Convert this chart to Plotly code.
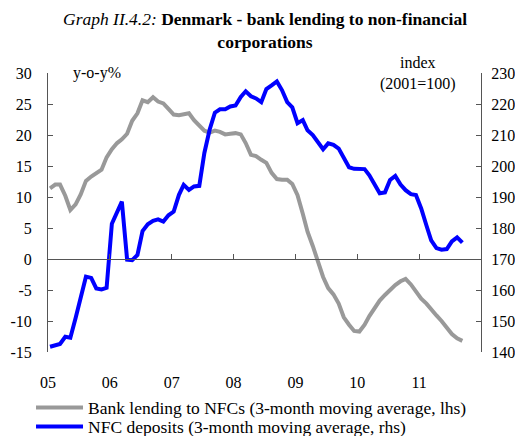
import pandas as pd
import plotly.graph_objects as go

# monthly data, Jan 2005 - Sep 2011
start_month = "2005-01-01"

lending_yoy = [
    11.4, 12.0, 12.0, 10.2, 7.9, 8.8, 10.4, 12.6, 13.3, 13.9, 14.4, 16.4,
    17.7, 18.7, 19.3, 20.2, 22.3, 23.5, 25.6, 25.3, 26.1, 25.4, 25.1, 24.2,
    23.3, 23.2, 23.3, 23.5, 22.4, 21.5, 20.7, 20.4, 20.7, 20.5, 20.1, 20.2,
    20.3, 20.1, 18.7, 16.8, 16.6, 16.0, 15.5, 13.9, 12.9, 12.8, 12.8, 12.1,
    10.3, 7.3, 4.4, 2.1, -0.4, -2.9, -4.7, -5.7, -7.2, -9.4, -10.6, -11.6,
    -11.7, -10.6, -9.2, -7.8, -6.7, -5.8, -5.0, -4.2, -3.6, -3.2, -4.1, -5.3,
    -6.4, -7.2, -8.2, -9.1, -10.0, -11.1, -12.1, -12.8, -13.2,
]

deposits_index = [
    141.7, 142.1, 142.6, 144.9, 144.6, 151.0, 158.1, 164.3, 163.9, 160.5, 160.2, 160.7,
    181.4, 185.2, 188.5, 169.8, 169.6, 171.3, 179.0, 181.2, 182.3, 182.8, 182.1, 184.1,
    185.3, 190.7, 193.9, 192.3, 193.4, 193.6, 204.2, 211.7, 217.2, 218.3, 218.3, 219.2,
    219.5, 222.3, 224.1, 222.5, 221.8, 220.6, 224.8, 226.0, 227.3, 224.5, 220.6, 218.9,
    213.8, 214.8, 211.5, 210.0, 207.5, 205.4, 207.3, 206.8, 205.6, 202.3, 199.6, 199.1,
    199.0, 199.0, 197.0, 193.8, 191.2, 191.5, 195.5, 196.8, 194.0, 192.2, 190.9, 190.6,
    186.3, 180.8, 176.0, 173.5, 173.0, 173.2, 175.7, 177.0, 175.3,
]

year_ticks = ["2005-01-01", "2006-01-01", "2007-01-01", "2008-01-01",
              "2009-01-01", "2010-01-01", "2011-01-01"]
year_labels = ["05", "06", "07", "08", "09", "10", "11"]

left_ticks = [30, 25, 20, 15, 10, 5, 0, -5, -10, -15]
right_ticks = [230, 220, 210, 200, 190, 180, 170, 160, 150, 140]

dates = pd.date_range(start_month, periods=len(lending_yoy), freq="MS") + pd.Timedelta(days=12)

FONT = "Liberation Serif, Times New Roman, serif"
AXIS_COLOR = "#555555"
x_range = ["2005-01-01", "2012-01-01"]

fig = go.Figure()

fig.add_trace(go.Scatter(
    x=dates, y=lending_yoy,
    mode="lines",
    name="Bank lending to NFCs (3-month moving average, lhs)",
    line=dict(color="#999999", width=4),
    xaxis="x", yaxis="y",
    legend="legend",
))

fig.add_trace(go.Scatter(
    x=dates, y=deposits_index,
    mode="lines",
    name="NFC deposits (3-month moving average, rhs)",
    line=dict(color="#0000FF", width=4),
    xaxis="x2", yaxis="y2",
    legend="legend2",
))

# one legend per row so the rows sit as tight as in the original
legend_style = dict(
    orientation="v",
    xref="container", yref="container",
    x=0.044, xanchor="left", yanchor="middle",
    bgcolor="rgba(0,0,0,0)",
    font=dict(family=FONT, size=17.5),
    itemwidth=47,
)

# the page body adds an 8px offset, margins are set with that in mind
fig.update_layout(
    width=523, height=436,
    margin=dict(l=40, r=50, t=65, b=92, autoexpand=False),
    paper_bgcolor="white",
    plot_bgcolor="white",
    font=dict(family=FONT, size=16, color="black"),
    # bottom axis: labels only
    xaxis=dict(
        range=x_range, type="date",
        tickvals=year_ticks, ticktext=year_labels,
        showline=False, showgrid=False, zeroline=False,
        ticks="outside", ticklen=16, tickcolor="rgba(0,0,0,0)",
        tickfont=dict(size=16),
    ),
    # axis line drawn across the plot at zero
    xaxis2=dict(
        range=x_range, type="date", matches="x",
        overlaying="x", anchor="free", position=1/3,
        tickvals=year_ticks, showticklabels=False,
        showline=True, linecolor=AXIS_COLOR, linewidth=1,
        ticks="inside", ticklen=5, tickcolor=AXIS_COLOR,
        showgrid=False, zeroline=False,
    ),
    yaxis=dict(
        range=[-15, 30],
        tickvals=left_ticks, ticktext=[str(v) for v in left_ticks],
        showline=True, linecolor=AXIS_COLOR, linewidth=1,
        ticks="inside", ticklen=5, tickcolor=AXIS_COLOR,
        ticklabelstandoff=12,
        showgrid=False, zeroline=False,
        tickfont=dict(size=16),
    ),
    yaxis2=dict(
        range=[140, 230],
        tickvals=right_ticks, ticktext=[str(v) for v in right_ticks],
        overlaying="y", side="right", anchor="x",
        showline=True, linecolor=AXIS_COLOR, linewidth=1,
        ticks="inside", ticklen=5, tickcolor=AXIS_COLOR,
        ticklabelstandoff=6,
        showgrid=False, zeroline=False,
        tickfont=dict(size=16),
    ),
    showlegend=True,
    legend=dict(legend_style, y=0.0833),
    legend2=dict(legend_style, y=0.040),
    annotations=[
        dict(text="<i>Graph II.4.2:</i> <b>Denmark - bank lending to non-financial</b><br><b>corporations</b>",
             xref="paper", yref="paper", x=0.5, y=1.236,
             xanchor="center", yanchor="top", showarrow=False,
             font=dict(size=17.5)),
        dict(text="y-o-y%", xref="paper", yref="paper", x=0.113, y=1.0,
             xanchor="center", yanchor="middle",
             showarrow=False, font=dict(size=16)),
        dict(text="index<br>(2001=100)", xref="paper", yref="paper", x=0.855, y=1.0,
             xanchor="center", yanchor="middle",
             showarrow=False, font=dict(size=16)),
    ],
)

fig.write_html("out.html")
